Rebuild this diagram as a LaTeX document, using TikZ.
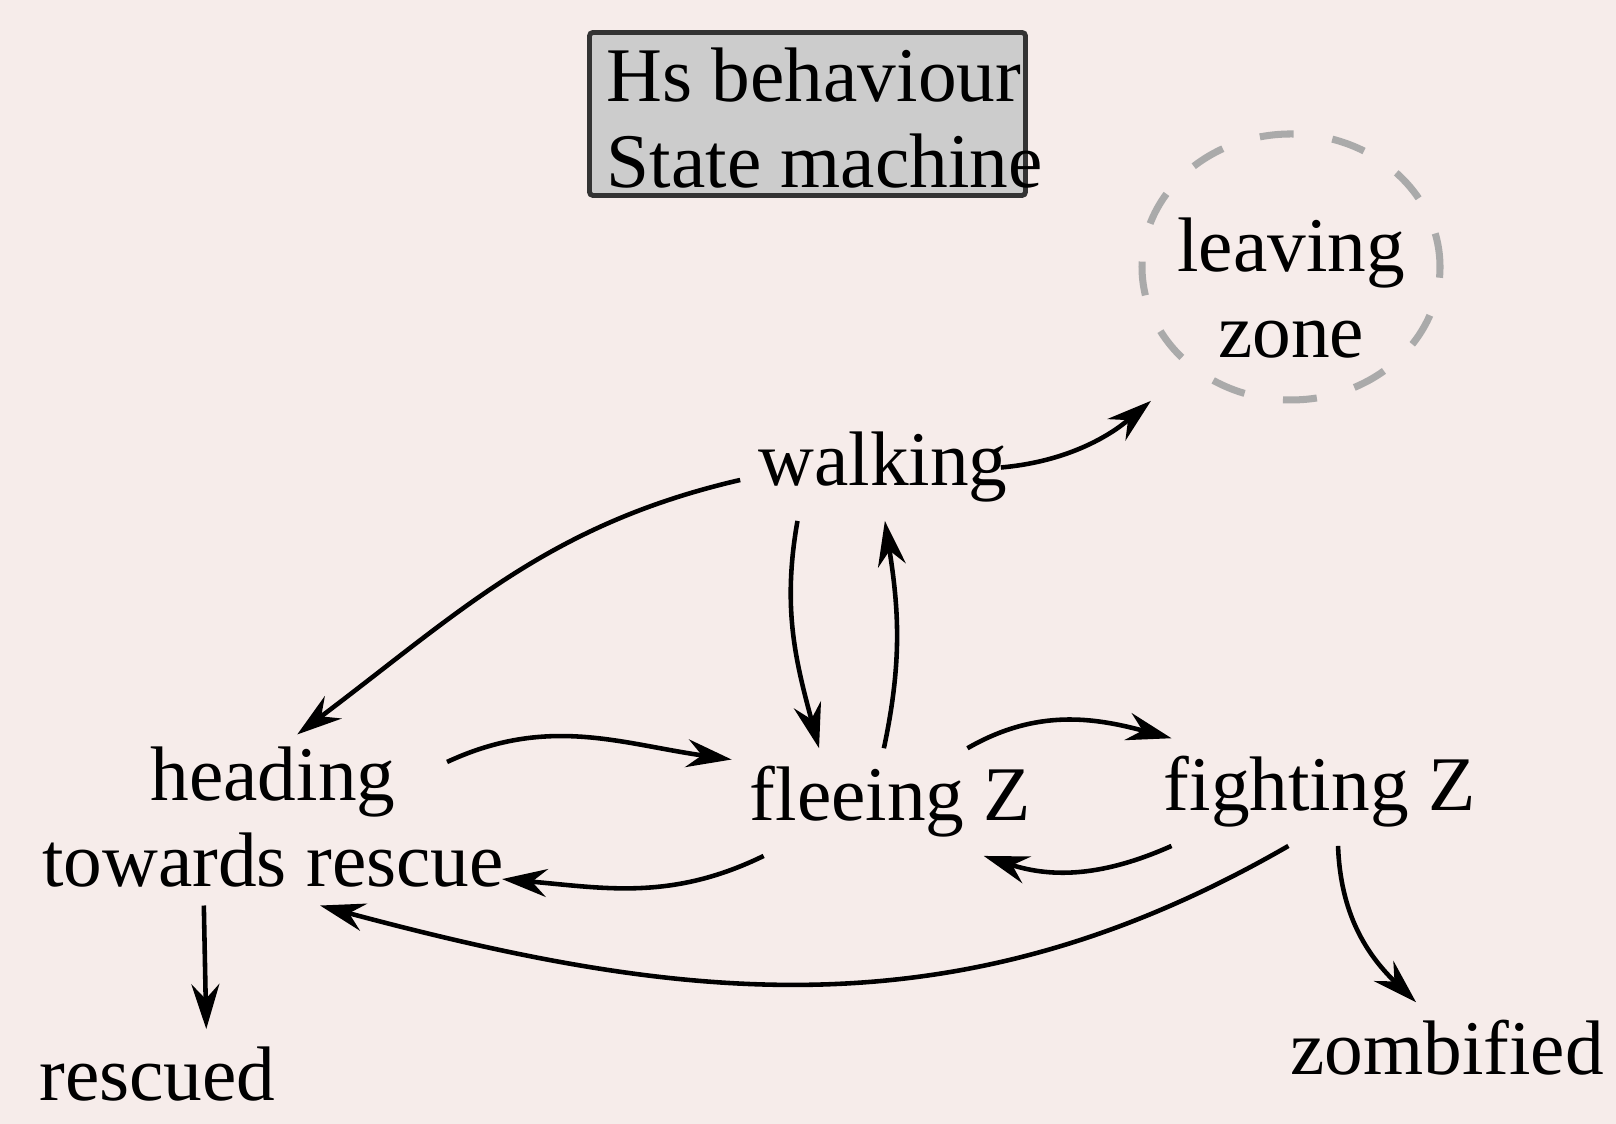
\documentclass[tikz,border=0pt]{standalone}
\usepackage{fontspec}
\setmainfont{Liberation Serif}
\usetikzlibrary{arrows.meta, positioning, shapes.geometric}
\definecolor{bgpink}{RGB}{246,236,234}
\definecolor{titlegray}{RGB}{204,204,204}
\definecolor{titleedge}{RGB}{51,51,51}
\definecolor{zonegray}{RGB}{170,170,170}

\begin{document}
\begin{tikzpicture}[
    state/.style={inner sep=5pt, font=\fontsize{22}{24.5}\selectfont, align=center},
    trans/.style={-{Stealth[length=4.5mm, width=2.8mm, inset=1.5mm]}, line width=1.3pt},
    zone/.style={ellipse, draw=zonegray, line width=2pt, dash pattern=on 3.4mm off 3.9mm, minimum width=2.98cm, minimum height=2.66cm, inner sep=0pt},
    titlebox/.style={rectangle, draw=titleedge, fill=titlegray, line width=1.4pt, minimum width=4.36cm, minimum height=1.63cm, rounded corners=1pt}
]
    \useasboundingbox (0,0) rectangle (16.16,11.24);
    \fill[bgpink] (0,0) rectangle (16.16,11.24);

    % title
    \node[titlebox] (titlebg) at (8.075,10.10) {};
    \node[state, inner sep=0pt, align=left, anchor=north west] (title) at (6.06,10.77) {Hs behaviour\\State machine};

    % states
    \node[state, anchor=base] (walk) at (8.83,6.38) {walking};
    \node[state, anchor=base] (flee) at (8.905,3.03) {fleeing Z};
    \node[state, anchor=base] (fight) at (13.195,3.13) {fighting Z};
    \node[state] (head) at (2.73,3.07) {heading\\towards rescue};
    \node[state, anchor=base] (rescued) at (1.575,0.23) {rescued};
    \node[state, anchor=base] (zomb) at (14.47,0.49) {zombified};
    \node[zone] (leave) at (12.91,8.57) {};
    \node[state, inner sep=0pt] (leavetext) at (12.91,8.355) {leaving\\zone};

    % transitions
    \draw[trans, shorten >=5mm] ([xshift=-2.5mm]walk.east) to[out=5, in=220] (leave.225);
    \draw[trans, shorten >=-1mm] (walk.185) to[out=193, in=37] (head.70);
    \draw[trans] (walk.212) to[out=260, in=105] (flee.143);
    \draw[trans] (flee.97) to[out=78, in=279] (walk.272);
    \draw[trans] ([shift={(-0.75,0.55)}]head.east) to[out=25, in=172] (flee.165);
    \draw[trans] (flee.203) to[out=206, in=-5] ([xshift=-2mm]head.346);
    \draw[trans] (flee.35) to[out=30, in=165] (fight.160);
    \draw[trans] (fight.200) to[out=204, in=-18] (flee.330);
    \draw[trans] (fight.240) to[out=210, in=-15] (head.298);
    \draw[trans] (fight.289) to[out=272, in=136] (zomb.124);
    \draw[trans] (head.232) -- (rescued.43);
\end{tikzpicture}
\end{document}
